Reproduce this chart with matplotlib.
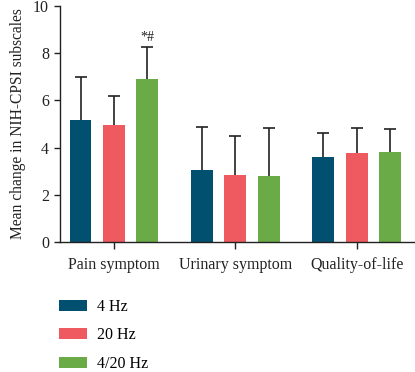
import matplotlib
matplotlib.use("Agg")
import matplotlib.pyplot as plt
import numpy as np
from matplotlib.patches import Patch

categories = ["Pain symptom", "Urinary symptom", "Quality-of-life"]
series = ["4 Hz", "20 Hz", "4/20 Hz"]
means = {
    "4 Hz": [5.17, 3.04, 3.60],
    "20 Hz": [4.94, 2.84, 3.76],
    "4/20 Hz": [6.89, 2.80, 3.80],
}
errs = {
    "4 Hz": [1.83, 1.82, 1.00],
    "20 Hz": [1.26, 1.65, 1.06],
    "4/20 Hz": [1.39, 2.02, 0.97],
}
colors = {"4 Hz": "#01506f", "20 Hz": "#ee5a5f", "4/20 Hz": "#6aab47"}
yticks = [0, 2, 4, 6, 8, 10]

plt.rcParams['font.family'] = ['Liberation Serif', 'DejaVu Serif']

fig = plt.figure(figsize=(4.15, 3.72), dpi=100)
ax = fig.add_axes([60/415, 130/372, 355/415, 236/372])

x = np.arange(len(categories))
width = 0.18
stride = 0.275
for i, s in enumerate(series):
    pos = x + (i - 1) * stride
    ax.bar(pos, means[s], width=width, color=colors[s], zorder=2)
    ax.errorbar(pos, means[s], yerr=errs[s], fmt='none',
                ecolor='#222222', elinewidth=1.2, capsize=4.5, capthick=1.2, zorder=1)

ax.text(x[0] + stride, means["4/20 Hz"][0] + errs["4/20 Hz"][0] + 0.1, "*#",
        ha='center', va='bottom', fontsize=10, color='#222222')

ax.set_xlim(-0.444, 2.48)
ax.set_ylim(0, 10)
ax.set_yticks(yticks)
ax.set_xticks(x)
ax.set_xticklabels(categories, fontsize=11.5)
ax.tick_params(axis='y', labelsize=11.5, length=4, width=1, colors='#222222', pad=4)
ax.tick_params(axis='x', length=5, width=1, colors='#222222', pad=6)
for sp in ['top', 'right']:
    ax.spines[sp].set_visible(False)
for sp in ['left', 'bottom']:
    ax.spines[sp].set_linewidth(1)
    ax.spines[sp].set_color('#222222')
ax.set_ylabel("Mean change in NIH-CPSI subscales", fontsize=11.2, color='#222222', labelpad=5)

handles = [Patch(facecolor=colors[s], label=s) for s in series]
fig.legend(handles=handles, loc='upper left', bbox_to_anchor=(59/415, 1 - 299/372),
           frameon=False, fontsize=11.5, handlelength=1.75, handleheight=0.7,
           labelspacing=0.78, handletextpad=0.65, borderpad=0, borderaxespad=0)

fig.savefig("out.png", dpi=100)
